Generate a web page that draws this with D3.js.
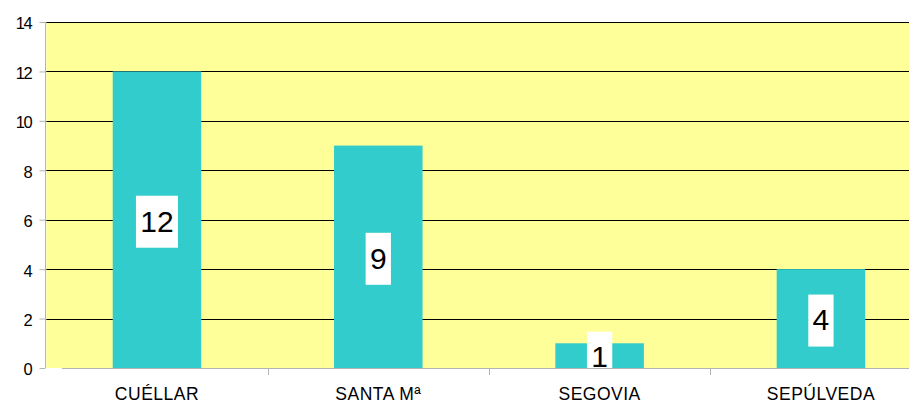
<!DOCTYPE html>
<html><head><meta charset="utf-8">
<script src="https://cdn.jsdelivr.net/npm/d3@7"></script>
<style>
html,body{margin:0;padding:0;background:#fff;}
svg{display:block;font-family:"Liberation Sans",Arial,sans-serif;}
</style></head>
<body><svg id="chart" width="909" height="405"></svg>
<script>
const categories = ["CUÉLLAR", "SANTA Mª", "SEGOVIA", "SEPÚLVEDA"];
const values = [12, 9, 1, 4];
const yTicks = [0, 2, 4, 6, 8, 10, 12, 14];

(function () {
const svg = d3.select("#chart");
const pLeft = 46.3, pRight = 931.6, pTop = 22, pBottom = 368;

const x = d3.scaleBand().domain(categories).range([pLeft, pRight]).padding(0);
const y = d3.scaleLinear().domain([0, 14]).range([pBottom, pTop]);
const barW = x.bandwidth() * 0.4;

// plot background
svg.append("rect").attr("x", pLeft).attr("y", pTop)
  .attr("width", pRight - pLeft).attr("height", pBottom - pTop).attr("fill", "#FFFF99");

// gridlines
svg.append("g").selectAll("line").data(yTicks.filter(d => d > 0)).join("line")
  .attr("x1", pLeft).attr("x2", pRight)
  .attr("y1", d => Math.round(y(d)) + 0.5).attr("y2", d => Math.round(y(d)) + 0.5)
  .attr("stroke", "#000").attr("stroke-width", 1);

// bars
svg.append("g").selectAll("rect").data(values).join("rect")
  .attr("x", (d, i) => x(categories[i]) + (x.bandwidth() - barW) / 2)
  .attr("y", d => y(d))
  .attr("width", barW)
  .attr("height", d => y(0) - y(d))
  .attr("fill", "#33CCCC");

// value labels
const lbl = svg.append("g").selectAll("g").data(values).join("g")
  .attr("transform", (d, i) => `translate(${x(categories[i]) + x.bandwidth() / 2},${y(d / 2) + 1})`);
lbl.each(function(d) {
  const g = d3.select(this);
  const w = String(d).length * 16.7 + 8.6;
  g.append("rect").attr("x", -w / 2).attr("y", -25).attr("width", w).attr("height", 52).attr("fill", "#fff");
  g.append("text").attr("text-anchor", "middle").attr("dy", "0.36em")
    .attr("font-size", 30).attr("fill", "#000").text(d);
});

// y axis
const yAxis = svg.append("g").attr("transform", `translate(45.5,0)`)
  .call(d3.axisLeft(y).tickValues(yTicks).tickSize(6).tickPadding(8).tickFormat(d3.format("d")));
yAxis.select(".domain").attr("stroke", "#B4B4B4").attr("d", `M0,${pTop}V${pBottom}`);
yAxis.selectAll(".tick line").attr("stroke", "#B4B4B4");
yAxis.selectAll(".tick text").attr("font-size", 16.5).attr("font-family", "Liberation Sans, Arial, sans-serif")
  .attr("fill", "#000").attr("letter-spacing", "-1.3").attr("dy", "0.42em");

// x axis
const xAxis = svg.append("g").attr("transform", `translate(0,${pBottom + 0.5})`)
  .call(d3.axisBottom(x).tickSize(0).tickPadding(19));
xAxis.select(".domain").attr("stroke", "#B4B4B4").attr("d", `M62,0H${pRight}`);
xAxis.selectAll(".tick text").attr("font-size", 17.5).attr("font-family", "Liberation Sans, Arial, sans-serif")
  .attr("fill", "#000").attr("letter-spacing", "0.5");
// category separator ticks
svg.append("g").selectAll("line").data(categories.slice(1)).join("line")
  .attr("x1", d => Math.round(x(d)) + 0.5).attr("x2", d => Math.round(x(d)) + 0.5)
  .attr("y1", pBottom).attr("y2", pBottom + 7)
  .attr("stroke", "#B4B4B4");
})();
</script></body></html>
